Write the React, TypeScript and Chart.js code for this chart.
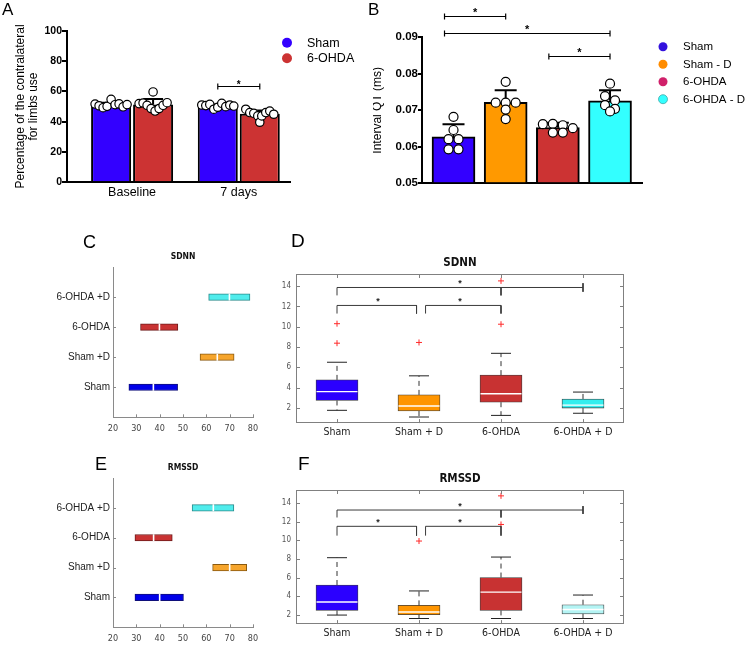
import React, { useEffect, useRef } from 'react';
import { Chart, registerables } from 'chart.js';

Chart.register(...registerables);

const ARIAL = "'Liberation Sans', Arial, Helvetica, sans-serif";
const NARROW = "'Liberation Sans Narrow', 'Arial Narrow', 'DejaVu Sans Condensed', 'Liberation Sans', sans-serif";

/* ---------------- Panel A data ---------------- */
const A_GROUPS = ['Baseline', '7 days'];
const A_SERIES = ['Sham', '6-OHDA'];
const A_SHAM_MEAN = [51.5, 50.5];
const A_OHDA_MEAN = [51.4, 45.2];
const A_SHAM_SEM = [1.0, 0.9];
const A_OHDA_SEM = [3.6, 2.1];
const A_SHAM_PTS_BASELINE = [51.6, 50.5, 49.2, 50.1, 54.7, 51.2, 51.7, 49.8, 51.3];
const A_SHAM_PTS_7D = [51.0, 50.6, 51.4, 48.2, 49.5, 52.1, 49.9, 51.0, 50.3];
const A_OHDA_PTS_BASELINE = [51.9, 52.3, 50.8, 48.6, 47.0, 59.6, 48.6, 50.8, 52.5];
const A_OHDA_PTS_7D = [48.2, 46.0, 45.5, 43.8, 39.6, 43.8, 46.0, 47.0, 44.9];
const A_Y_TICKS = [0, 20, 40, 60, 80, 100];
const A_SIG_Y = 63.5;

/* ---------------- Panel B data ---------------- */
const B_GROUPS = ['Sham', 'Sham - D', '6-OHDA', '6-OHDA - D'];
const B_MEAN = [0.0627, 0.0722, 0.0653, 0.0726];
const B_SEM = [0.0035, 0.0033, 0.0013, 0.0029];
const B_PTS_SHAM = [0.0682, 0.0646, 0.0621, 0.0621, 0.0593, 0.0593];
const B_PTS_SHAM_D = [0.0778, 0.0721, 0.0721, 0.0721, 0.0702, 0.0676];
const B_PTS_OHDA = [0.0662, 0.0663, 0.0659, 0.0651, 0.0639, 0.0639];
const B_PTS_OHDA_D = [0.0773, 0.0739, 0.0727, 0.0714, 0.0704, 0.0697];
const B_Y_TICKS = [0.05, 0.06, 0.07, 0.08, 0.09];
const B_CMP_FROM = [1, 1, 3];
const B_CMP_TO = [2, 4, 4];
const B_CMP_Y = [0.0958, 0.0912, 0.0849];

/* ---------------- Panels C / E data (multiple comparison intervals) ---------------- */
const MC_CATS = ['Sham', 'Sham +D', '6-OHDA', '6-OHDA +D'];
const MC_X_TICKS = [20, 30, 40, 50, 60, 70, 80];
const C_LOW = [26.8, 57.3, 31.8, 61.0];
const C_HIGH = [47.7, 71.9, 47.8, 78.7];
const C_MEAN = [37.3, 64.7, 39.9, 69.9];
const E_LOW = [29.4, 62.7, 29.4, 53.9];
const E_HIGH = [50.2, 77.3, 45.4, 71.8];
const E_MEAN = [40.0, 70.0, 37.4, 63.0];

/* ---------------- Panels D / F data (box plots) ---------------- */
const BOX_CATS = ['Sham', 'Sham + D', '6-OHDA', '6-OHDA + D'];
const BOX_Y_TICKS = [2, 4, 6, 8, 10, 12, 14];
const D_Q1 = [2.73, 1.69, 2.56, 1.98];
const D_Q3 = [4.76, 3.28, 5.23, 2.88];
const D_MED = [3.6, 2.19, 3.39, 2.27];
const D_WLO = [1.76, 1.1, 1.26, 1.47];
const D_WHI = [6.5, 5.16, 7.38, 3.56];
const D_OUT = [[10.3, 8.38], [8.45], [10.25, 14.52], []];
const D_CMP_FROM = [1, 2, 1];
const D_CMP_TO = [2, 3, 4];
const D_CMP_Y = [12.1, 12.1, 13.87];
const F_Q1 = [2.47, 2.0, 2.47, 2.1];
const F_Q3 = [5.2, 3.01, 6.0, 3.08];
const F_MED = [3.38, 2.3, 4.43, 2.57];
const F_WLO = [1.97, 1.6, 1.6, 1.6];
const F_WHI = [8.13, 4.56, 8.2, 4.12];
const F_OUT = [[], [9.92], [11.7, 14.77], []];
const F_CMP_FROM = [1, 2, 1];
const F_CMP_TO = [2, 3, 4];
const F_CMP_Y = [11.5, 11.5, 13.25];

/* ---------------- styles ---------------- */
const A_COLORS = ['#3300ff', '#cc3333'];
const B_COLORS = ['#3300ff', '#ff9900', '#cc3333', '#33ffff'];
const B_LEGEND_COLORS = ['#3311dd', '#ff8c00', '#d0206a', '#33ffff'];
const MC_COLORS = ['#0000e8', '#f6a52c', '#c93333', '#50ecec'];
const MC_BORDERS = ['#10107a', '#8a5a10', '#6e1c1c', '#2a8a8a'];
const D_COLORS = ['#2b00ff', '#ff9500', '#c83232', '#33eeee'];
const F_COLORS = ['#2b00ff', '#ff9500', '#c83232', '#b4f4f4'];
const BR_DX1 = [0, 0.08, 0];
const BR_DX2 = [-0.03, 0, 0];
const BR_RIGHT = ['down', 'down', 'cross'];
const BR_MID: (number | null)[] = [null, null, 3];
const D_LEGS = [0.8, 0.8, 0.78];
const F_LEGS = [1.0, 1.0, 0.8];

type Geo = { x: number; y: number; w: number; h: number; left: number; top: number; right: number; bottom: number };
const GEO_A: Geo = { x: 0, y: 0, w: 373, h: 205, left: 67, top: 30.7, right: 290, bottom: 182.3 };
const GEO_B: Geo = { x: 373, y: 0, w: 373, h: 205, left: 49, top: 37.3, right: 269, bottom: 183.3 };
const GEO_C: Geo = { x: 0, y: 200, w: 280, h: 236, left: 113, top: 67, right: 253, bottom: 217.3 };
const GEO_E: Geo = { x: 0, y: 440, w: 280, h: 206, left: 113, top: 38, right: 253, bottom: 187.3 };
const GEO_D: Geo = { x: 260, y: 200, w: 486, h: 245, left: 36, top: 74, right: 364, bottom: 225 };
const GEO_F: Geo = { x: 260, y: 440, w: 486, h: 206, left: 36, top: 50, right: 364, bottom: 192 };

const LETTERS = [
  { t: 'A', left: 2, base: 15, size: 17 },
  { t: 'B', left: 368, base: 15, size: 17 },
  { t: 'C', left: 83, base: 248, size: 18 },
  { t: 'D', left: 291, base: 247, size: 19 },
  { t: 'E', left: 95, base: 470, size: 18 },
  { t: 'F', left: 298, base: 470, size: 19 },
];

function layoutFor(g: Geo, xh: number) {
  return { padding: { left: 0, top: g.top, right: g.w - g.right, bottom: g.h - g.bottom - xh } };
}

// arrange dots of a group in centred rows (layout only)
function rowOffsets(values: number[], pxPerUnit: number, tol: number, spacing: number): number[] {
  const idx = values.map((_, i) => i).sort((a, b) => values[b] - values[a]);
  const rows: number[][] = [];
  for (const i of idx) {
    const r = rows[rows.length - 1];
    if (r && (values[r[0]] - values[i]) * pxPerUnit <= tol) r.push(i);
    else rows.push([i]);
  }
  const off = new Array(values.length).fill(0);
  for (const r of rows) {
    r.sort((a, b) => a - b);
    r.forEach((i, j) => {
      off[i] = (j - (r.length - 1) / 2) * spacing;
    });
  }
  return off;
}

function makeDecor(cfg: any) {
  return {
    id: 'decor',
    afterDatasetDraw(chart: any, args: any) {
      const ds = chart.data.datasets[args.index];
      if (!ds.errorUp) return;
      const ctx = chart.ctx;
      const ys = chart.scales.y;
      ctx.save();
      ctx.strokeStyle = '#000';
      ctx.lineWidth = 2;
      args.meta.data.forEach((el: any, i: number) => {
        const top = ys.getPixelForValue(ds.data[i].y + ds.errorUp[i]);
        ctx.beginPath();
        ctx.moveTo(el.x, el.y);
        ctx.lineTo(el.x, top);
        ctx.moveTo(el.x - ds.capHalf, top);
        ctx.lineTo(el.x + ds.capHalf, top);
        ctx.stroke();
      });
      ctx.restore();
    },
    afterDraw(chart: any) {
      const ctx = chart.ctx;
      const a = chart.chartArea;
      const xs = chart.scales.x;
      const ys = chart.scales.y;
      ctx.save();
      if (cfg.frame) {
        ctx.strokeStyle = cfg.frame;
        ctx.lineWidth = 1;
        ctx.strokeRect(Math.round(a.left) + 0.5, Math.round(a.top) + 0.5, Math.round(a.right) - Math.round(a.left) - 1, Math.round(a.bottom) - Math.round(a.top) - 1);
      }
      if (cfg.inTicks) {
        const { len, color, sides } = cfg.inTicks;
        ctx.strokeStyle = color;
        ctx.lineWidth = 1;
        ctx.beginPath();
        for (const side of sides) {
          const sc = side === 'left' || side === 'right' ? ys : xs;
          for (const t of sc.ticks) {
            const p = Math.round(sc.getPixelForValue(t.value)) + 0.5;
            if (side === 'left') { ctx.moveTo(a.left, p); ctx.lineTo(a.left + len, p); }
            if (side === 'right') { ctx.moveTo(a.right, p); ctx.lineTo(a.right - len, p); }
            if (side === 'bottom') { ctx.moveTo(p, a.bottom); ctx.lineTo(p, a.bottom - len); }
            if (side === 'top') { ctx.moveTo(p, a.top); ctx.lineTo(p, a.top + len); }
          }
        }
        ctx.stroke();
      }
      if (cfg.title) {
        ctx.fillStyle = cfg.title.color;
        ctx.font = cfg.title.fnt;
        ctx.textAlign = 'center';
        ctx.textBaseline = 'middle';
        ctx.fillText(cfg.title.text, (a.left + a.right) / 2, a.top - cfg.title.dy);
      }
      if (cfg.legend) {
        const L = cfg.legend;
        L.items.forEach((it: any, k: number) => {
          const y = L.y + k * L.dy;
          ctx.beginPath();
          ctx.arc(L.x, y, L.r, 0, Math.PI * 2);
          ctx.fillStyle = it.color;
          ctx.fill();
          if (it.stroke) {
            ctx.strokeStyle = it.stroke;
            ctx.lineWidth = 0.8;
            ctx.stroke();
          }
          ctx.fillStyle = '#000';
          ctx.font = L.fnt;
          ctx.textAlign = 'left';
          ctx.textBaseline = 'middle';
          ctx.fillText(it.text, L.textX, y + 0.5);
        });
      }
      if (cfg.barBrackets) {
        const S = cfg.bracketStyle;
        ctx.strokeStyle = '#000';
        ctx.lineWidth = S.width;
        for (const b of cfg.barBrackets) {
          const ea = chart.getDatasetMeta(b.a[0]).data[b.a[1]];
          const eb = chart.getDatasetMeta(b.b[0]).data[b.b[1]];
          const x1 = ea.x + b.dxa;
          const x2 = eb.x + b.dxb;
          const y = Math.round(ys.getPixelForValue(b.y)) + 0.5;
          ctx.beginPath();
          ctx.moveTo(x1, y); ctx.lineTo(x2, y);
          ctx.moveTo(x1, y - S.tick); ctx.lineTo(x1, y + S.tick);
          ctx.moveTo(x2, y - S.tick); ctx.lineTo(x2, y + S.tick);
          ctx.stroke();
          ctx.fillStyle = '#000';
          ctx.font = S.starFnt;
          ctx.textAlign = 'center';
          ctx.textBaseline = 'alphabetic';
          ctx.fillText('*', (x1 + x2) / 2, y - S.gap + 0.58 * S.starSize);
        }
      }
      if (cfg.stars) {
        const S = cfg.starStyle;
        ctx.fillStyle = S.color;
        ctx.font = S.fnt;
        ctx.textAlign = 'center';
        ctx.textBaseline = 'alphabetic';
        for (const s of cfg.stars) {
          ctx.fillText('*', xs.getPixelForValue(s.x), ys.getPixelForValue(s.y) - S.gap + 0.58 * S.size);
        }
      }
      ctx.restore();
    },
  };
}

const BASE_OPTS = {
  responsive: false,
  animation: false,
  events: [],
  devicePixelRatio: 1,
};

function configA() {
  const g = GEO_A;
  const xMin = 0.39, xMax = 2.48;
  const pxX = (g.right - g.left) / (xMax - xMin);
  const pxY = (g.bottom - g.top) / (A_Y_TICKS[A_Y_TICKS.length - 1] - A_Y_TICKS[0]);
  const chunk = 42, barW = 40;
  const means = [A_SHAM_MEAN, A_OHDA_MEAN];
  const sems = [A_SHAM_SEM, A_OHDA_SEM];
  const pts = [[A_SHAM_PTS_BASELINE, A_SHAM_PTS_7D], [A_OHDA_PTS_BASELINE, A_OHDA_PTS_7D]];
  const datasets: any[] = A_SERIES.map((name, s) => ({
    type: 'bar',
    label: name,
    data: means[s].map((v, i) => ({ x: i + 1, y: v })),
    backgroundColor: A_COLORS[s],
    borderColor: '#000',
    borderWidth: 2,
    categoryPercentage: (2 * chunk) / pxX,
    barPercentage: barW / chunk,
    order: 2,
    errorUp: sems[s],
    capHalf: 10,
  }));
  A_SERIES.forEach((_, s) => {
    A_GROUPS.forEach((__, i) => {
      const vals = pts[s][i];
      const cx = i + 1 + ((s - 0.5) * chunk) / pxX;
      const off = rowOffsets(vals, pxY, 9, 4);
      datasets.push({
        type: 'scatter',
        data: vals.map((v, k) => ({ x: cx + off[k] / pxX, y: v })),
        pointRadius: 4.2,
        pointBackgroundColor: '#fff',
        pointBorderColor: '#000',
        pointBorderWidth: 1.2,
        order: 0,
      });
    });
  });
  const config = {
    type: 'bar',
    data: { datasets },
    options: {
      ...BASE_OPTS,
      layout: layoutFor(g, 18),
      plugins: { legend: { display: false }, tooltip: { enabled: false } },
      scales: {
        x: {
          type: 'linear', min: xMin, max: xMax, offset: false,
          afterBuildTicks: (ax: any) => { ax.ticks = A_GROUPS.map((_, i) => ({ value: i + 1 })); },
          ticks: { callback: (v: any) => A_GROUPS[v - 1], font: { family: ARIAL, size: 12.5 }, color: '#000', padding: 3, maxRotation: 0, autoSkip: false },
          grid: { display: false, drawTicks: false },
          border: { display: true, color: '#000', width: 2 },
          afterFit: (s: any) => { s.height = 18; },
        },
        y: {
          type: 'linear', min: A_Y_TICKS[0], max: A_Y_TICKS[A_Y_TICKS.length - 1],
          afterBuildTicks: (ax: any) => { ax.ticks = A_Y_TICKS.map((v) => ({ value: v })); },
          ticks: { font: { family: ARIAL, size: 10.5, weight: 'bold' }, color: '#000', padding: 0 },
          grid: { display: true, drawOnChartArea: false, drawTicks: true, tickLength: 5, color: '#000', lineWidth: 2 },
          border: { display: true, color: '#000', width: 2 },
          title: { display: true, text: ['Percentage of the contralateral', 'for limbs use'], font: { family: ARIAL, size: 12, lineHeight: 1.1 }, color: '#000', padding: { top: 14, bottom: 0 } },
          afterFit: (s: any) => { s.width = g.left; },
        },
      },
    },
  };
  const plugin = makeDecor({
    legend: { x: 287, y: 42.7, dy: 15.6, r: 5, textX: 307, fnt: `12.5px ${ARIAL}`, items: A_SERIES.map((t, s) => ({ text: t, color: A_COLORS[s] })) },
    barBrackets: [{ a: [0, 1], b: [1, 1], y: A_SIG_Y, dxa: 0, dxb: 0 }],
    bracketStyle: { tick: 3, width: 1.2, starFnt: `bold 10px ${ARIAL}`, starSize: 10, gap: 4.5 },
  });
  return { config, plugins: [plugin] };
}

function configB() {
  const g = GEO_B;
  const xMin = 0.396, xMax = 4.613;
  const yMin = B_Y_TICKS[0], yMax = B_Y_TICKS[B_Y_TICKS.length - 1];
  const pxX = (g.right - g.left) / (xMax - xMin);
  const pxY = (g.bottom - g.top) / (yMax - yMin);
  const pts = [B_PTS_SHAM, B_PTS_SHAM_D, B_PTS_OHDA, B_PTS_OHDA_D];
  const datasets: any[] = [
    {
      type: 'bar',
      data: B_MEAN.map((v, i) => ({ x: i + 1, y: v })),
      backgroundColor: B_COLORS,
      borderColor: '#000',
      borderWidth: 2,
      barThickness: 43,
      base: yMin,
      order: 2,
      errorUp: B_SEM,
      capHalf: 11,
    },
  ];
  pts.forEach((vals, i) => {
    const off = rowOffsets(vals, pxY, 5, 10);
    datasets.push({
      type: 'scatter',
      data: vals.map((v, k) => ({ x: i + 1 + off[k] / pxX, y: v })),
      pointRadius: 4.5,
      pointBackgroundColor: '#fff',
      pointBorderColor: '#000',
      pointBorderWidth: 1.2,
      order: 0,
    });
  });
  const config = {
    type: 'bar',
    data: { datasets },
    options: {
      ...BASE_OPTS,
      layout: layoutFor(g, 4),
      plugins: { legend: { display: false }, tooltip: { enabled: false } },
      scales: {
        x: {
          type: 'linear', min: xMin, max: xMax, offset: false,
          afterBuildTicks: (ax: any) => { ax.ticks = []; },
          ticks: { display: false },
          grid: { display: false, drawTicks: false },
          border: { display: true, color: '#000', width: 2 },
          afterFit: (s: any) => { s.height = 4; },
        },
        y: {
          type: 'linear', min: yMin, max: yMax,
          afterBuildTicks: (ax: any) => { ax.ticks = B_Y_TICKS.map((v) => ({ value: v })); },
          ticks: { callback: (v: any) => Number(v).toFixed(2), font: { family: ARIAL, size: 11.5, weight: 'bold' }, color: '#000', padding: 0 },
          grid: { display: true, drawOnChartArea: false, drawTicks: true, tickLength: 4, color: '#000', lineWidth: 2 },
          border: { display: true, color: '#000', width: 2 },
          title: { display: true, text: 'Interval QT (ms)', font: { family: ARIAL, size: 12, lineHeight: 1 }, color: '#000', padding: { top: -1, bottom: 0 } },
          afterFit: (s: any) => { s.width = g.left; },
        },
      },
    },
  };
  const plugin = makeDecor({
    legend: {
      x: 290, y: 46.7, dy: 17.5, r: 4.5, textX: 310, fnt: `11.5px ${ARIAL}`,
      items: B_GROUPS.map((t, i) => ({ text: t, color: B_LEGEND_COLORS[i], stroke: i === 3 ? '#4aa' : null })),
    },
    barBrackets: B_CMP_FROM.map((f, k) => ({ a: [0, f - 1], b: [0, B_CMP_TO[k] - 1], y: B_CMP_Y[k], dxa: -9, dxb: 0 })),
    bracketStyle: { tick: 3, width: 1.2, starFnt: `bold 11px ${ARIAL}`, starSize: 11, gap: 6.5 },
  });
  return { config, plugins: [plugin] };
}

function configMC(g: Geo, low: number[], high: number[], mean: number[], title: string) {
  const config = {
    type: 'bar',
    data: {
      datasets: [
        {
          type: 'bar',
          data: MC_CATS.map((_, i) => ({ y: i + 1, x: [low[i], high[i]] })),
          backgroundColor: MC_COLORS,
          borderColor: MC_BORDERS,
          borderWidth: 1,
          borderSkipped: false,
          barThickness: 6.5,
          order: 1,
        },
        {
          type: 'scatter',
          data: mean.map((m, i) => ({ x: m, y: i + 1 })),
          pointStyle: 'line',
          pointRotation: 90,
          pointRadius: 3.5,
          pointBorderColor: '#ffffff',
          pointBorderWidth: 1.6,
          order: 0,
        },
      ],
    },
    options: {
      ...BASE_OPTS,
      indexAxis: 'y',
      layout: layoutFor(g, 14),
      plugins: { legend: { display: false }, tooltip: { enabled: false } },
      scales: {
        x: {
          type: 'linear', min: MC_X_TICKS[0], max: MC_X_TICKS[MC_X_TICKS.length - 1], offset: false,
          afterBuildTicks: (ax: any) => { ax.ticks = MC_X_TICKS.map((v) => ({ value: v })); },
          ticks: { font: { family: NARROW, size: 9 }, color: '#444', padding: 5.5, maxRotation: 0, autoSkip: false },
          grid: { display: false, drawTicks: false },
          border: { display: true, color: '#8a8a8a', width: 1 },
          afterFit: (s: any) => { s.height = 14; },
        },
        y: {
          type: 'linear', min: 0, max: MC_CATS.length + 1, offset: false,
          afterBuildTicks: (ax: any) => { ax.ticks = MC_CATS.map((_, i) => ({ value: i + 1 })); },
          ticks: { callback: (v: any) => MC_CATS[v - 1], font: { family: ARIAL, size: 10 }, color: '#222', padding: 3, autoSkip: false },
          grid: { display: false, drawTicks: false },
          border: { display: true, color: '#8a8a8a', width: 1 },
          afterFit: (s: any) => { s.width = g.left; },
        },
      },
    },
  };
  const plugin = makeDecor({
    inTicks: { len: 3, color: '#8a8a8a', sides: ['left', 'bottom'] },
    title: { text: title, fnt: `bold 8.5px ${NARROW}`, color: '#111', dy: 10 },
  });
  return { config, plugins: [plugin] };
}

function bracketPath(from: number[], to: number[], ys: number[], legs: number[], cross: number) {
  const pts: any[] = [];
  from.forEach((f, k) => {
    const x1 = f + BR_DX1[k];
    const x2 = to[k] + BR_DX2[k];
    const y = ys[k];
    const l = legs[k];
    pts.push({ x: x1, y: y - l }, { x: x1, y }, { x: x2, y });
    if (BR_RIGHT[k] === 'cross') {
      pts.push({ x: x2, y: null }, { x: x2, y: y + cross }, { x: x2, y: y - cross });
    } else {
      pts.push({ x: x2, y: y - l });
    }
    pts.push({ x: x2, y: null });
    const m = BR_MID[k];
    if (m !== null) pts.push({ x: m, y }, { x: m, y: y - l }, { x: m, y: null });
  });
  return pts;
}

function configBox(
  g: Geo, q1: number[], q3: number[], med: number[], wlo: number[], whi: number[], out: number[][],
  colors: string[], yMin: number, yMax: number, title: string,
  cmpFrom: number[], cmpTo: number[], cmpY: number[], legs: number[], starGap: number,
) {
  const whiskers: any[] = [];
  BOX_CATS.forEach((_, i) => {
    whiskers.push({ x: i + 1, y: q3[i] }, { x: i + 1, y: whi[i] }, { x: i + 1, y: null });
    whiskers.push({ x: i + 1, y: q1[i] }, { x: i + 1, y: wlo[i] }, { x: i + 1, y: null });
  });
  const caps: any[] = [];
  BOX_CATS.forEach((_, i) => caps.push({ x: i + 1, y: whi[i] }, { x: i + 1, y: wlo[i] }));
  const outliers: any[] = [];
  out.forEach((arr, i) => arr.forEach((v) => outliers.push({ x: i + 1, y: v })));
  const config = {
    type: 'bar',
    data: {
      datasets: [
        {
          type: 'bar',
          data: BOX_CATS.map((_, i) => ({ x: i + 1, y: [q1[i], q3[i]] })),
          backgroundColor: colors,
          borderColor: '#3c3c3c',
          borderWidth: 0.8,
          borderSkipped: false,
          barThickness: 42,
          order: 5,
        },
        {
          type: 'line', data: whiskers, borderColor: '#333', borderWidth: 1, borderDash: [5, 4],
          pointRadius: 0, spanGaps: false, order: 4,
        },
        {
          type: 'scatter', data: caps, pointStyle: 'line', pointRadius: 10,
          pointBorderColor: '#222', pointBorderWidth: 1, order: 3,
        },
        {
          type: 'scatter', data: med.map((m, i) => ({ x: i + 1, y: m })), pointStyle: 'line', pointRadius: 20.5,
          pointBorderColor: '#ffffff', pointBorderWidth: 1.4, order: 2,
        },
        {
          type: 'scatter', data: outliers, pointStyle: 'cross', pointRadius: 3,
          pointBorderColor: '#ff2a2a', pointBorderWidth: 1, order: 1,
        },
        {
          type: 'line', data: bracketPath(cmpFrom, cmpTo, cmpY, legs, 0.42), borderColor: '#3a3a3a', borderWidth: 1,
          pointRadius: 0, spanGaps: false, order: 0,
        },
      ],
    },
    options: {
      ...BASE_OPTS,
      layout: layoutFor(g, 16),
      plugins: { legend: { display: false }, tooltip: { enabled: false } },
      scales: {
        x: {
          type: 'linear', min: 0.5, max: BOX_CATS.length + 0.5, offset: false,
          afterBuildTicks: (ax: any) => { ax.ticks = BOX_CATS.map((_, i) => ({ value: i + 1 })); },
          ticks: { callback: (v: any) => BOX_CATS[v - 1], font: { family: NARROW, size: 10.5 }, color: '#222', padding: 3, maxRotation: 0, autoSkip: false },
          grid: { display: false, drawTicks: false },
          border: { display: false },
          afterFit: (s: any) => { s.height = 16; },
        },
        y: {
          type: 'linear', min: yMin, max: yMax,
          afterBuildTicks: (ax: any) => { ax.ticks = BOX_Y_TICKS.map((v) => ({ value: v })); },
          ticks: { font: { family: NARROW, size: 8 }, color: '#555', padding: 5 },
          grid: { display: false, drawTicks: false },
          border: { display: false },
          afterFit: (s: any) => { s.width = g.left; },
        },
      },
    },
  };
  const plugin = makeDecor({
    frame: '#808080',
    inTicks: { len: 4, color: '#808080', sides: ['left', 'right', 'top', 'bottom'] },
    title: { text: title, fnt: `bold 11.5px ${NARROW}`, color: '#111', dy: 11 },
    stars: cmpFrom.map((f, k) => ({ x: (f + cmpTo[k]) / 2, y: cmpY[k] })),
    starStyle: { fnt: `bold 9px ${ARIAL}`, size: 9, gap: starGap, color: '#222' },
  });
  return { config, plugins: [plugin] };
}

function ChartBox({ g, make }: { g: Geo; make: () => { config: any; plugins: any[] } }) {
  const ref = useRef<HTMLCanvasElement | null>(null);
  useEffect(() => {
    const { config, plugins } = make();
    const chart = new Chart(ref.current as HTMLCanvasElement, { ...config, plugins } as any);
    return () => chart.destroy();
  }, []);
  return (
    <canvas
      ref={ref}
      width={g.w}
      height={g.h}
      style={{ position: 'absolute', left: g.x, top: g.y, width: g.w, height: g.h }}
    />
  );
}

export default function App() {
  return (
    <div style={{ position: 'absolute', left: 0, top: 0, width: 746, height: 646, background: '#fff', overflow: 'hidden' }}>
      <ChartBox g={GEO_A} make={configA} />
      <ChartBox g={GEO_B} make={configB} />
      <ChartBox g={GEO_C} make={() => configMC(GEO_C, C_LOW, C_HIGH, C_MEAN, 'SDNN')} />
      <ChartBox g={GEO_E} make={() => configMC(GEO_E, E_LOW, E_HIGH, E_MEAN, 'RMSSD')} />
      <ChartBox
        g={GEO_D}
        make={() => configBox(GEO_D, D_Q1, D_Q3, D_MED, D_WLO, D_WHI, D_OUT, D_COLORS, 0.5, 15.2, 'SDNN', D_CMP_FROM, D_CMP_TO, D_CMP_Y, D_LEGS, 7)}
      />
      <ChartBox
        g={GEO_F}
        make={() => configBox(GEO_F, F_Q1, F_Q3, F_MED, F_WLO, F_WHI, F_OUT, F_COLORS, 1.0, 15.4, 'RMSSD', F_CMP_FROM, F_CMP_TO, F_CMP_Y, F_LEGS, 6.5)}
      />
      {LETTERS.map((l) => (
        <div
          key={l.t}
          style={{
            position: 'absolute',
            left: l.left,
            top: l.base - 0.8465 * l.size,
            fontFamily: ARIAL,
            fontSize: l.size,
            lineHeight: 1,
            color: '#000',
          }}
        >
          {l.t}
        </div>
      ))}
    </div>
  );
}
